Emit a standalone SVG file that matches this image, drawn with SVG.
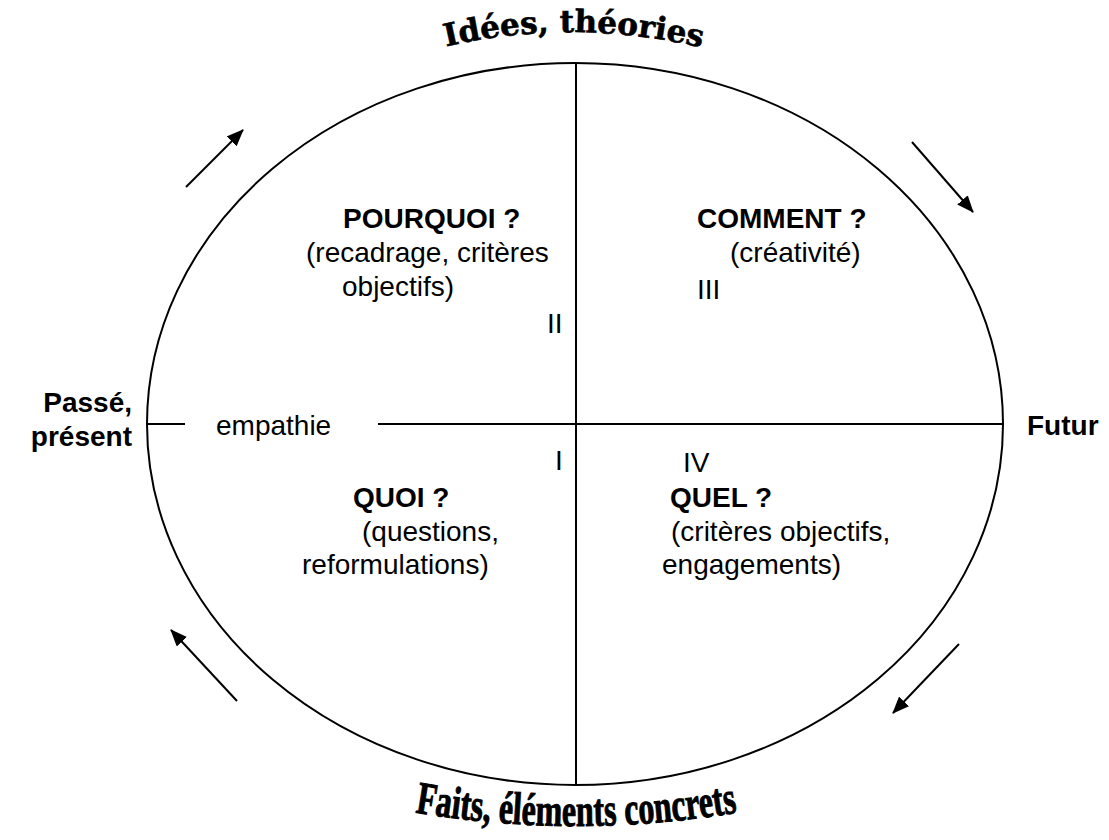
<svg xmlns="http://www.w3.org/2000/svg" width="1109" height="840" viewBox="0 0 1109 840">
  <style>
    .ln { fill: none; stroke: #000; stroke-width: 2; }
    .t { font-family: "Liberation Sans", Arial, sans-serif; font-size: 28px; fill: #000; }
    .b { font-weight: bold; }
    .arc-top { font-family: "DejaVu Serif", "Liberation Serif", serif; font-weight: bold; font-size: 31px; fill: #000; stroke: #000; stroke-width: 0.6; }
    .arc-bot { font-family: "Liberation Serif", "DejaVu Serif", serif; font-weight: bold; font-size: 46px; fill: #000; stroke: #000; stroke-width: 1; }
  </style>
  <defs>
    <marker id="head" markerUnits="userSpaceOnUse" markerWidth="18" markerHeight="14" refX="16" refY="7" orient="auto">
      <path d="M0,0 L17,7 L0,14 z" fill="#000"/>
    </marker>
    <path id="topArc" d="M 444,47 Q 575,16 712,50"/>
    <path id="botArc" d="M 413,812 Q 576,840 740,812"/>
  </defs>

  <rect width="1109" height="840" fill="#fff"/>

  <!-- circle of the four questions -->
  <g id="frame">
    <ellipse class="ln" cx="575" cy="424" rx="428" ry="361"/>
    <line class="ln" x1="576" y1="63" x2="576" y2="785"/>
    <line class="ln" x1="147" y1="424" x2="185" y2="424"/>
    <line class="ln" x1="378" y1="424" x2="1003" y2="424"/>
  </g>

  <!-- direction of travel round the circle -->
  <g id="connectors">
    <line class="ln" x1="186" y1="187" x2="243" y2="130" marker-end="url(#head)"/>
    <line class="ln" x1="912" y1="142" x2="973" y2="212" marker-end="url(#head)"/>
    <line class="ln" x1="959" y1="644" x2="893" y2="713" marker-end="url(#head)"/>
    <line class="ln" x1="237" y1="701" x2="171" y2="630" marker-end="url(#head)"/>
  </g>

  <!-- axis labels -->
  <g id="axis-top">
    <text class="arc-top"><textPath href="#topArc" textLength="258" lengthAdjust="spacingAndGlyphs" startOffset="2">Idées, théories</textPath></text>
  </g>
  <g id="axis-bottom">
    <text class="arc-bot"><textPath href="#botArc" textLength="324" lengthAdjust="spacingAndGlyphs" startOffset="2">Faits, éléments concrets</textPath></text>
  </g>
  <g id="axis-left">
    <text class="t b" x="132" y="412" text-anchor="end">Passé,</text>
    <text class="t b" x="132" y="446" text-anchor="end">présent</text>
  </g>
  <g id="axis-right">
    <text class="t b" x="1027" y="435">Futur</text>
  </g>
  <g id="empathie">
    <text class="t" x="216" y="435">empathie</text>
  </g>

  <!-- quadrant II -->
  <g id="q-pourquoi">
    <text class="t b" x="343" y="228">POURQUOI ?</text>
    <text class="t" x="306" y="262">(recadrage, critères</text>
    <text class="t" x="342" y="296">objectifs)</text>
    <text class="t" x="547" y="333">II</text>
  </g>

  <!-- quadrant III -->
  <g id="q-comment">
    <text class="t b" x="697" y="228">COMMENT ?</text>
    <text class="t" x="730" y="262">(créativité)</text>
    <text class="t" x="697" y="299">III</text>
  </g>

  <!-- quadrant I -->
  <g id="q-quoi">
    <text class="t" x="555" y="470">I</text>
    <text class="t b" x="353" y="507">QUOI ?</text>
    <text class="t" x="362" y="541">(questions,</text>
    <text class="t" x="302" y="574">reformulations)</text>
  </g>

  <!-- quadrant IV -->
  <g id="q-quel">
    <text class="t" x="683" y="472">IV</text>
    <text class="t b" x="670" y="507">QUEL ?</text>
    <text class="t" x="671" y="541">(critères objectifs,</text>
    <text class="t" x="662" y="574">engagements)</text>
  </g>
</svg>
